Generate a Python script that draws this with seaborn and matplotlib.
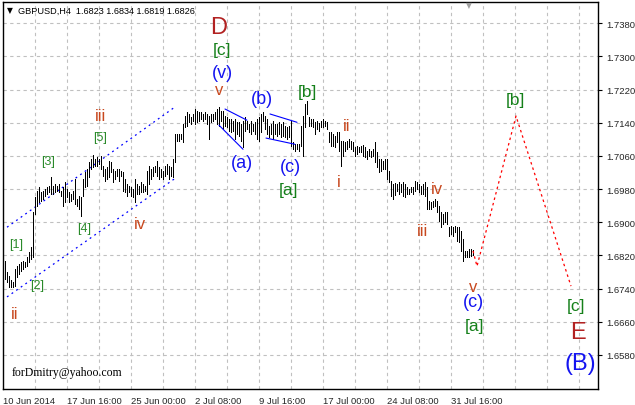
import numpy as np
import pandas as pd
import matplotlib
matplotlib.use("Agg")
import matplotlib.pyplot as plt
import seaborn as sns

# ---------------- data ----------------
bar_high = [
    1.6807, 1.6780, 1.6770, 1.6761, 1.6756, 1.6787, 1.6794, 1.6799, 1.6804, 1.6807,
    1.6804, 1.6816, 1.6828, 1.6840, 1.6925, 1.6961, 1.6975, 1.6985, 1.6973, 1.6975,
    1.6980, 1.6985, 1.6987, 1.7009, 1.6987, 1.6992, 1.6987, 1.6992, 1.6975, 1.6985,
    1.6997, 1.6980, 1.6973, 1.6968, 1.6975, 1.7004, 1.6956, 1.6963, 1.6961, 1.7004,
    1.7021, 1.7028, 1.7045, 1.7052, 1.7062, 1.7052, 1.7057, 1.7052, 1.7060, 1.7035,
    1.7028, 1.7033, 1.7047, 1.7045, 1.7028, 1.7023, 1.7028, 1.7028, 1.7023, 1.7021,
    1.7004, 1.6992, 1.6987, 1.6985, 1.6980, 1.7004, 1.6992, 1.6987, 1.6997, 1.6992,
    1.6987, 1.7023, 1.7035, 1.7028, 1.7033, 1.7035, 1.7047, 1.7033, 1.7028, 1.7023,
    1.7035, 1.7040, 1.7035, 1.7033, 1.7052, 1.7113, 1.7113, 1.7113, 1.7113, 1.7137,
    1.7156, 1.7166, 1.7161, 1.7153, 1.7161, 1.7173, 1.7168, 1.7166, 1.7166, 1.7161,
    1.7166, 1.7161, 1.7156, 1.7161, 1.7161, 1.7166, 1.7173, 1.7178, 1.7168, 1.7168,
    1.7156, 1.7153, 1.7149, 1.7149, 1.7144, 1.7149, 1.7141, 1.7141, 1.7137, 1.7144,
    1.7153, 1.7144, 1.7137, 1.7144, 1.7137, 1.7141, 1.7149, 1.7153, 1.7161, 1.7166,
    1.7156, 1.7149, 1.7132, 1.7137, 1.7144, 1.7137, 1.7137, 1.7141, 1.7137, 1.7141,
    1.7132, 1.7129, 1.7132, 1.7144, 1.7093, 1.7088, 1.7088, 1.7088, 1.7132, 1.7156,
    1.7185, 1.7192, 1.7153, 1.7149, 1.7149, 1.7141, 1.7144, 1.7139, 1.7144, 1.7149,
    1.7144, 1.7141, 1.7117, 1.7117, 1.7113, 1.7108, 1.7117, 1.7117, 1.7096, 1.7096,
    1.7093, 1.7096, 1.7100, 1.7096, 1.7093, 1.7081, 1.7084, 1.7081, 1.7084, 1.7086,
    1.7081, 1.7072, 1.7076, 1.7072, 1.7076, 1.7093, 1.7069, 1.7052, 1.7052, 1.7047,
    1.7052, 1.7052, 1.7023, 1.6999, 1.6992, 1.6994, 1.6992, 1.6997, 1.6992, 1.6997,
    1.6992, 1.6985, 1.6980, 1.6985, 1.6985, 1.6999, 1.6997, 1.6992, 1.6987, 1.6992,
    1.6997, 1.6985, 1.6951, 1.6949, 1.6951, 1.6956, 1.6951, 1.6939, 1.6925, 1.6920,
    1.6925, 1.6925, 1.6888, 1.6891, 1.6888, 1.6891, 1.6888, 1.6888, 1.6879, 1.6860,
    1.6831, 1.6831, 1.6835, 1.6835, 1.6833,
]
bar_low = [
    1.6763, 1.6756, 1.6744, 1.6744, 1.6744, 1.6746, 1.6768, 1.6775, 1.6782, 1.6787,
    1.6792, 1.6794, 1.6804, 1.6811, 1.6816, 1.6920, 1.6939, 1.6949, 1.6951, 1.6956,
    1.6963, 1.6968, 1.6973, 1.6968, 1.6968, 1.6973, 1.6975, 1.6973, 1.6963, 1.6939,
    1.6949, 1.6961, 1.6949, 1.6951, 1.6956, 1.6944, 1.6939, 1.6932, 1.6915, 1.6963,
    1.6985, 1.6987, 1.7009, 1.7028, 1.7033, 1.7035, 1.7035, 1.7040, 1.7028, 1.7011,
    1.6999, 1.7004, 1.7009, 1.7021, 1.6997, 1.7004, 1.7011, 1.6999, 1.7011, 1.6975,
    1.6973, 1.6963, 1.6973, 1.6963, 1.6961, 1.6949, 1.6968, 1.6968, 1.6973, 1.6973,
    1.6975, 1.6968, 1.6992, 1.7004, 1.7011, 1.7021, 1.7011, 1.7004, 1.7009, 1.7004,
    1.7011, 1.7016, 1.7004, 1.7011, 1.7009, 1.7045, 1.7096, 1.7096, 1.7100, 1.7093,
    1.7129, 1.7132, 1.7141, 1.7137, 1.7144, 1.7137, 1.7141, 1.7144, 1.7149, 1.7144,
    1.7149, 1.7137, 1.7100, 1.7141, 1.7144, 1.7149, 1.7137, 1.7132, 1.7144, 1.7125,
    1.7132, 1.7129, 1.7120, 1.7117, 1.7120, 1.7100, 1.7113, 1.7108, 1.7096, 1.7081,
    1.7120, 1.7125, 1.7117, 1.7113, 1.7120, 1.7113, 1.7100, 1.7096, 1.7117, 1.7144,
    1.7125, 1.7113, 1.7105, 1.7113, 1.7100, 1.7113, 1.7108, 1.7113, 1.7105, 1.7108,
    1.7105, 1.7100, 1.7105, 1.7084, 1.7076, 1.7072, 1.7076, 1.7072, 1.7084, 1.7060,
    1.7129, 1.7161, 1.7132, 1.7132, 1.7129, 1.7113, 1.7125, 1.7120, 1.7129, 1.7129,
    1.7132, 1.7125, 1.7093, 1.7084, 1.7084, 1.7081, 1.7093, 1.7072, 1.7035, 1.7060,
    1.7072, 1.7076, 1.7081, 1.7076, 1.7072, 1.7060, 1.7064, 1.7069, 1.7069, 1.7060,
    1.7057, 1.7052, 1.7060, 1.7057, 1.7060, 1.7045, 1.7033, 1.7021, 1.7023, 1.7028,
    1.7028, 1.7004, 1.6997, 1.6963, 1.6956, 1.6966, 1.6975, 1.6968, 1.6973, 1.6963,
    1.6961, 1.6968, 1.6968, 1.6973, 1.6968, 1.6975, 1.6980, 1.6973, 1.6968, 1.6968,
    1.6963, 1.6932, 1.6932, 1.6932, 1.6937, 1.6939, 1.6925, 1.6903, 1.6888, 1.6896,
    1.6900, 1.6896, 1.6867, 1.6872, 1.6867, 1.6876, 1.6855, 1.6852, 1.6831, 1.6807,
    1.6816, 1.6816, 1.6816, 1.6819, 1.6821,
]

# forecast path (bar index, price)
forecast_x = [235, 237, 256.5, 284]
forecast_y = [1.6831, 1.6794, 1.7156, 1.6746]

# trend channel (dotted blue)
channel_upper_x = [2, 86]
channel_upper_y = [1.6888, 1.7178]
channel_lower_x = [2, 87]
channel_lower_y = [1.6720, 1.7009]

# triangle lines (solid blue)
tri_lines = [
    ([111, 122], [1.7173, 1.7146]),
    ([108, 120], [1.7134, 1.7076]),
    ([133.5, 147], [1.7161, 1.7141]),
    ([131.5, 146], [1.7103, 1.7088]),
]

# tick labels
y_ticks = [1.6580, 1.6660, 1.6740, 1.6820, 1.6900, 1.6980, 1.7060, 1.7140, 1.7220, 1.7300, 1.7380]
x_tick_pos = [0, 32, 64, 96, 128, 160, 192, 224]
x_tick_labels = ["10 Jun 2014", "17 Jun 16:00", "25 Jun 00:00", "2 Jul 08:00",
                 "9 Jul 16:00", "17 Jul 00:00", "24 Jul 08:00", "31 Jul 16:00"]

# wave labels: (text, x, price, kind)
wave_labels = [
    ("D", 108, 1.7370, "big_red"),
    ("[c]", 109.5, 1.7317, "green"),
    ("(v)", 109.5, 1.7262, "blue"),
    ("v", 108, 1.7219, "roman"),
    ("iii", 48.5, 1.7158, "roman"),
    ("[5]", 48.5, 1.7105, "small_green"),
    ("[3]", 22.5, 1.7047, "small_green"),
    ("[1]", 6.5, 1.6847, "small_green"),
    ("[4]", 40.5, 1.6886, "small_green"),
    ("[2]", 17, 1.6749, "small_green"),
    ("ii", 6, 1.6679, "roman"),
    ("iv", 68.5, 1.6896, "roman"),
    ("(a)", 119.5, 1.7045, "blue"),
    ("(b)", 129.5, 1.7199, "blue"),
    ("(c)", 143.5, 1.7035, "blue"),
    ("[a]", 142.5, 1.6980, "green"),
    ("[b]", 152, 1.7216, "green"),
    ("ii", 172, 1.7134, "roman"),
    ("i", 168, 1.6999, "roman"),
    ("iv", 217, 1.6982, "roman"),
    ("iii", 210, 1.6879, "roman"),
    ("v", 235, 1.6746, "roman"),
    ("(c)", 235, 1.6708, "blue"),
    ("[a]", 235.5, 1.6652, "green"),
    ("[b]", 256, 1.7197, "green"),
    ("[c]", 286.5, 1.6700, "green"),
    ("E", 287.5, 1.6635, "big_red"),
    ("(B)", 288.5, 1.6561, "big_blue"),
]

# ---------------- style ----------------
sns.set_style("white")
plt.rcParams["font.family"] = ["Liberation Sans", "DejaVu Sans"]

styles = {
    "big_red": dict(color="#B22222", fontsize=17),
    "big_blue": dict(color="#1414F0", fontsize=17),
    "green": dict(color="#15801A", fontsize=12.5),
    "small_green": dict(color="#2A8A2A", fontsize=9),
    "blue": dict(color="#1414F0", fontsize=13),
    "roman": dict(color="#C8481E", fontsize=12),
}

fig = plt.figure(figsize=(6.35, 4.06), dpi=100)
ax = fig.add_axes([3 / 635, 16 / 406, 595 / 635, 387 / 406])

df = pd.DataFrame({"x": np.arange(1, len(bar_high) + 1), "high": bar_high, "low": bar_low})

# grid
for gx in range(16, 298, 16):
    ax.axvline(gx, color="#C0C0C0", lw=0.8, ls=(0, (3, 3)), zorder=0)
for gy in y_ticks:
    ax.axhline(gy, color="#C0C0C0", lw=0.8, ls=(0, (3, 3)), zorder=0)

# price bars
ax.vlines(df["x"], df["low"], df["high"], color="black", lw=0.55, zorder=3,
          antialiased=False)

# channel lines
sns.lineplot(x=channel_upper_x, y=channel_upper_y, ax=ax, color="#0000FF", lw=0.9,
             linestyle=(0, (1.5, 3)), zorder=2)
sns.lineplot(x=channel_lower_x, y=channel_lower_y, ax=ax, color="#0000FF", lw=0.9,
             linestyle=(0, (1.5, 3)), zorder=2)

# triangles
for tx, ty in tri_lines:
    sns.lineplot(x=tx, y=ty, ax=ax, color="#0000FF", lw=0.8, zorder=4)

# forecast
fdf = pd.DataFrame({"x": forecast_x, "y": forecast_y})
sns.lineplot(data=fdf, x="x", y="y", ax=ax, color="#FF0000", lw=0.9,
             linestyle=(0, (2, 2.5)), sort=False, zorder=4)

# wave labels
for txt, lx, ly, kind in wave_labels:
    ax.text(lx, ly, txt, ha="center", va="center", zorder=5, **styles[kind])

# axes
ax.set_xlim(0, 297.5)
ax.set_ylim(1.6498, 1.7431)
ax.set_xlabel("")
ax.set_ylabel("")
ax.yaxis.tick_right()
ax.set_yticks(y_ticks)
ax.set_yticklabels([f"{v:.4f}" for v in y_ticks], fontsize=6.8)
ax.set_xticks(x_tick_pos)
ax.set_xticklabels(x_tick_labels, fontsize=6.8, ha="left")
ax.tick_params(axis="both", length=3, width=0.8, color="black", pad=2)
ax.tick_params(axis="y", pad=3)
for s in ax.spines.values():
    s.set_color("black")
    s.set_linewidth(1.0)

# header and watermark
fig.text(7 / 635, 1 - 11 / 406, "▼", fontsize=5.5, va="center", ha="left", color="black",
         family=["DejaVu Sans"])
fig.text(18 / 635, 1 - 11 / 406, "GBPUSD,H4  1.6823 1.6834 1.6819 1.6826", fontsize=6.6,
         va="center", ha="left", color="black")
fig.text(469 / 635, 1 - 6 / 406, "▼", fontsize=5.5, va="center", ha="center", color="#A0A0A0",
         family=["DejaVu Sans"])
fig.text(12 / 635, 1 - 373 / 406, "forDmitry@yahoo.com", fontsize=8.5, va="center", ha="left",
         color="black", family=["Liberation Serif", "DejaVu Serif"])

fig.savefig("out.png", dpi=100)
